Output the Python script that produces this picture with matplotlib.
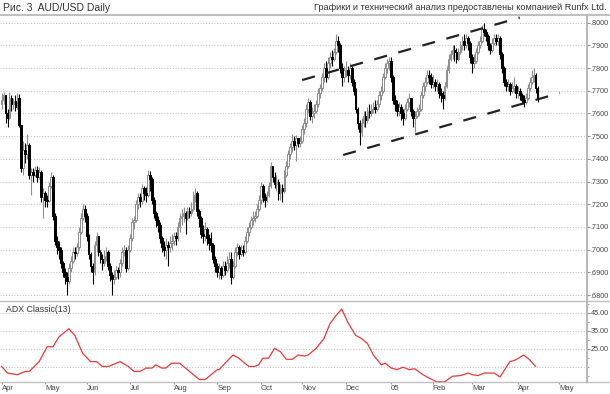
import matplotlib
matplotlib.use('Agg')
import matplotlib.pyplot as plt
from matplotlib.lines import Line2D
import numpy as np
import pandas as pd

plt.rcParams['font.family'] = ['Liberation Sans', 'DejaVu Sans']

# daily AUD/USD, prices in pips (0.0001), Apr 1 2004 .. Apr 15 2005
first_open = 7640
closes = [
    7660, 7680, 7600, 7580, 7670, 7640, 7655, 7630, 7670, 7550, 7360, 7440, 7420, 7460, 7330, 7340, 7330, 7350, 7320, 7340, 7230, 7250,  # apr
    7220, 7215, 7280, 7320, 7150, 7040, 7010, 7000, 6940, 6900, 6880, 6860, 6920, 6950, 6990, 6985, 7010, 7080, 7140, 7180, 7150,  # may
    7060, 6980, 6930, 6900, 7020, 7060, 6990, 6960, 6940, 6970, 6990, 6930, 6890, 6870, 6880, 6910, 6900, 6940, 6990, 7000, 6920, 7000,  # jun
    7050, 7120, 7130, 7200, 7230, 7215, 7270, 7250, 7240, 7330, 7310, 7220, 7160, 7130, 7110, 7050, 7010, 7000, 7020, 7010, 7030, 7040,  # jul
    7060, 7050, 7100, 7140, 7150, 7160, 7140, 7170, 7160, 7180, 7240, 7250, 7170, 7140, 7070, 7060, 7090, 7050, 7030, 7020, 6960, 6930,  # aug
    6900, 6920, 6890, 6930, 6910, 6940, 6960, 6880, 6930, 6990, 7010, 6980, 7000, 6990, 7040, 7080, 7100, 7130, 7140, 7150, 7180, 7220,  # sep
    7280, 7230, 7220, 7240, 7280, 7370, 7320, 7290, 7300, 7250, 7270, 7260, 7330, 7370, 7420, 7450, 7480, 7460, 7490, 7470, 7480,  # oct
    7530, 7560, 7620, 7650, 7590, 7600, 7610, 7640, 7690, 7710, 7760, 7800, 7760, 7820, 7850, 7840, 7870, 7920, 7900, 7800, 7760, 7790,  # nov
    7790, 7770, 7800, 7740, 7700, 7620, 7560, 7520, 7560, 7590, 7570, 7610, 7600, 7620, 7630, 7620, 7640, 7680, 7700, 7760, 7800, 7820, 7830,  # dec
    7760, 7660, 7640, 7610, 7630, 7600, 7580, 7620, 7650, 7670, 7610, 7580, 7590, 7610, 7620, 7680, 7720, 7740, 7770, 7760, 7730,  # jan
    7740, 7720, 7730, 7690, 7680, 7670, 7720, 7790, 7840, 7860, 7880, 7870, 7840, 7870, 7900, 7920, 7900, 7930, 7910, 7850,  # feb
    7820, 7830, 7870, 7900, 7920, 7970, 7960, 7940, 7900, 7880, 7910, 7930, 7920, 7930, 7860, 7800, 7740, 7720, 7730, 7700, 7710, 7720, 7690,  # mar
    7700, 7680, 7660, 7650, 7670, 7710, 7740, 7760, 7770, 7710, 7670,  # apr
]
highs = [
    7690, 7695, 7680, 7620, 7695, 7680, 7670, 7680, 7690, 7685, 7550, 7480, 7470, 7510, 7470, 7360, 7360, 7370, 7370, 7365, 7350, 7270,
    7260, 7240, 7300, 7340, 7330, 7160, 7060, 7040, 7010, 6950, 6920, 6900, 6940, 6970, 7010, 7010, 7030, 7100, 7160, 7200, 7195,
    7160, 7070, 6990, 6940, 7040, 7080, 7060, 7000, 6980, 7000, 7010, 7000, 6940, 6900, 6910, 6930, 6925, 6960, 7010, 7020, 7010, 7020,
    7070, 7140, 7150, 7220, 7250, 7250, 7290, 7280, 7275, 7350, 7345, 7320, 7230, 7170, 7150, 7120, 7060, 7040, 7050, 7040, 7060, 7070,
    7080, 7080, 7120, 7160, 7180, 7190, 7170, 7190, 7190, 7210, 7260, 7270, 7260, 7180, 7150, 7110, 7120, 7100, 7070, 7080, 7030, 6970,
    6940, 6940, 6930, 6950, 6950, 6970, 6990, 6990, 6950, 7010, 7030, 7020, 7020, 7020, 7060, 7100, 7120, 7150, 7170, 7170, 7200, 7240,
    7300, 7290, 7250, 7260, 7300, 7385, 7370, 7340, 7330, 7310, 7290, 7290, 7350, 7390, 7440, 7470, 7510, 7500, 7505, 7490, 7500,
    7550, 7580, 7640, 7670, 7660, 7630, 7640, 7660, 7710, 7730, 7780, 7820, 7830, 7850, 7870, 7880, 7890, 7950, 7940, 7910, 7820, 7810,
    7830, 7810, 7820, 7810, 7750, 7710, 7630, 7570, 7580, 7610, 7610, 7630, 7640, 7640, 7650, 7660, 7660, 7700, 7720, 7780, 7820, 7840, 7850,
    7850, 7770, 7680, 7660, 7650, 7640, 7620, 7640, 7670, 7690, 7670, 7620, 7610, 7630, 7640, 7700, 7740, 7760, 7790, 7790, 7780,
    7770, 7750, 7750, 7740, 7710, 7700, 7740, 7810, 7860, 7880, 7900, 7900, 7890, 7890, 7920, 7940, 7950, 7950, 7940, 7920,
    7860, 7860, 7890, 7920, 7940, 7990, 8000, 7970, 7950, 7910, 7930, 7950, 7950, 7950, 7940, 7870, 7810, 7750, 7750, 7740, 7740, 7760, 7730,
    7720, 7710, 7690, 7680, 7690, 7730, 7760, 7790, 7800, 7780, 7720,
]
lows = [
    7620, 7640, 7560, 7540, 7575, 7610, 7620, 7610, 7620, 7540, 7340, 7330, 7380, 7400, 7310, 7240, 7300, 7320, 7300, 7310, 7210, 7140,
    7190, 7190, 7210, 7270, 7130, 7020, 6980, 6960, 6920, 6880, 6850, 6800, 6850, 6900, 6940, 6960, 6970, 7000, 7070, 7130, 7120,
    7040, 6960, 6900, 6850, 6890, 6990, 6970, 6940, 6910, 6930, 6950, 6910, 6860, 6800, 6850, 6870, 6870, 6880, 6930, 6970, 6900, 6910,
    6990, 7040, 7090, 7120, 7180, 7190, 7200, 7220, 7210, 7230, 7260, 7200, 7140, 7100, 7080, 7030, 6990, 6970, 6960, 6930, 6990, 7000,
    7020, 7020, 7040, 7080, 7110, 7120, 7070, 7130, 7140, 7150, 7170, 7210, 7150, 7100, 7050, 7030, 7040, 7020, 7000, 6990, 6940, 6900,
    6880, 6870, 6870, 6880, 6890, 6900, 6920, 6850, 6870, 6920, 6970, 6960, 6970, 6970, 6980, 7030, 7060, 7090, 7110, 7120, 7140, 7170,
    7200, 7210, 7190, 7210, 7230, 7270, 7300, 7270, 7260, 7220, 7220, 7210, 7250, 7320, 7360, 7400, 7430, 7440, 7390, 7450, 7450,
    7470, 7510, 7540, 7600, 7570, 7560, 7580, 7600, 7630, 7670, 7700, 7740, 7740, 7750, 7800, 7810, 7830, 7860, 7870, 7780, 7720, 7740,
    7760, 7740, 7750, 7720, 7680, 7600, 7530, 7460, 7500, 7540, 7540, 7560, 7580, 7590, 7600, 7600, 7610, 7630, 7660, 7690, 7750, 7780, 7790,
    7740, 7640, 7610, 7590, 7590, 7570, 7550, 7570, 7610, 7630, 7590, 7540, 7520, 7580, 7590, 7610, 7670, 7700, 7730, 7730, 7710,
    7710, 7700, 7700, 7670, 7650, 7620, 7660, 7710, 7780, 7830, 7840, 7830, 7820, 7830, 7860, 7880, 7880, 7890, 7880, 7820,
    7780, 7800, 7820, 7860, 7890, 7910, 7940, 7920, 7880, 7860, 7870, 7900, 7900, 7900, 7840, 7780, 7720, 7700, 7700, 7680, 7690, 7690, 7670,
    7670, 7660, 7640, 7630, 7640, 7660, 7700, 7730, 7740, 7690, 7650,
]

# ADX(13), sampled by trading-day number
adx_day = [0, 3, 8, 10, 12, 14, 19, 23, 26, 29, 34, 37, 41, 45, 48, 51, 54, 56, 58, 60,
           64, 67, 70, 73, 76, 78, 81, 83, 86, 90, 94, 98, 100, 103, 106, 109, 110, 113, 117, 120,
           123, 125, 128, 130, 132, 135, 138, 141, 144, 147, 150, 153, 155, 159, 163, 166, 169, 172, 175, 179,
           182, 185, 188, 192, 194, 197, 200, 203, 206, 209, 213, 216, 220, 224, 228, 232, 236, 238, 241, 244,
           249, 252, 257, 260, 264, 267, 270]
adx_val = [15.1, 11.4, 10.5, 11.4, 12.3, 12.3, 17.8, 26.1, 26.1, 31.6, 36.2, 32.5, 22.4, 17.8, 17.8, 15.1, 15.1, 16.0, 16.9, 17.8,
           15.1, 12.3, 12.3, 14.2, 14.2, 16.0, 14.2, 14.2, 16.9, 16.9, 13.3, 9.6, 7.8, 7.8, 10.5, 13.3, 13.3, 16.9, 21.5, 19.7,
           16.9, 15.1, 15.1, 16.0, 19.7, 19.7, 25.2, 23.3, 19.1, 19.1, 21.5, 20.9, 21.5, 25.2, 30.7, 38.9, 43.5, 47.2, 39.9, 32.5,
           30.7, 27.9, 21.5, 16.0, 16.9, 14.2, 13.3, 14.7, 13.3, 13.8, 10.5, 8.7, 6.5, 6.5, 9.6, 10.0, 11.4, 10.5, 10.0, 11.4,
           11.4, 9.2, 17.8, 18.8, 21.5, 18.8, 15.1]

# channel lines (trading-day number, price)
upper_line = [(152, 0.7747), (262, 0.8022)]
lower_line = [(172.7, 0.7417), (282.3, 0.7690)]

price_ticks = [0.68, 0.69, 0.70, 0.71, 0.72, 0.73, 0.74, 0.75, 0.76, 0.77, 0.78, 0.79, 0.80]
adx_ticks = [25, 35, 45]
adx_grid = [15, 25, 35, 45]

axis_dates = pd.bdate_range('2004-04-01', '2005-05-31')

c = np.array(closes) / 10000
h = np.array(highs) / 10000
l = np.array(lows) / 10000
o = np.concatenate([[first_open / 10000], c[:-1]])
h = np.maximum(h, np.maximum(o, c))
l = np.minimum(l, np.minimum(o, c))
x = np.arange(len(c))
up = c >= o

W, H = 610, 394
fig = plt.figure(figsize=(W / 100, H / 100), dpi=100)
ax = fig.add_axes([0, 1 - 301 / H, 587 / W, (301 - 16) / H])
ax2 = fig.add_axes([0, 1 - 382 / H, 587 / W, (382 - 301) / H], sharex=ax)

grid_kw = dict(color='#c4c4c4', linewidth=0.8, linestyle=(0, (1, 1.5)), zorder=0)
for v in price_ticks:
    ax.axhline(v, **grid_kw)
for v in adx_grid:
    ax2.axhline(v, **grid_kw)

# candles
grey = '#8e8e8e'
ax.vlines(x[up], l[up], h[up], color=grey, linewidth=0.8, zorder=2)
ax.vlines(x[~up], l[~up], h[~up], color='#000000', linewidth=0.8, zorder=2)
body = np.maximum(np.abs(c - o), 0.0002)
ax.bar(x[up], body[up], bottom=np.minimum(o, c)[up], width=0.9,
       color='white', edgecolor=grey, linewidth=0.7, zorder=3)
ax.bar(x[~up], body[~up], bottom=np.minimum(o, c)[~up], width=0.9,
       color='black', edgecolor='black', linewidth=0.7, zorder=3)

dash = (0, (9.5 / 1.6, 8.5 / 1.6))
for line in (upper_line, lower_line):
    ax.plot([line[0][0], line[1][0]], [line[0][1], line[1][1]], color='#222222',
            linewidth=1.6, linestyle=dash, zorder=4, solid_capstyle='butt')

ax.set_ylim(0.6774, 0.8029)
ax.set_xlim(-0.8, 296)
ax.yaxis.tick_right()
ax.set_yticks(price_ticks)
ax.set_yticklabels(['.%04d' % round(v * 10000) for v in price_ticks])
ax.tick_params(axis='y', length=2, pad=0.6, labelsize=5.2, colors='#909090', labelcolor='#444444')
ax.tick_params(axis='x', bottom=False, labelbottom=False)

# ADX
ax2.plot(adx_day, adx_val, color='#e83a3a', linewidth=0.9, zorder=3)
ax2.set_ylim(6.4, 51.7)
ax2.yaxis.tick_right()
ax2.set_yticks(adx_ticks)
ax2.set_yticklabels(['%.2f' % v for v in adx_ticks])
ax2.set_yticks([10, 15, 20, 30, 40, 50], minor=True)
ax2.tick_params(axis='y', length=2, pad=0.6, labelsize=5.2, colors='#909090', labelcolor='#444444')
ax2.tick_params(axis='y', which='minor', length=1.5, colors='#909090')
ax2.text(2, 49.5, 'ADX Classic(13)', fontsize=6.3, color='#333333', va='top', ha='left')

month_pos = []
month_lab = []
prev = None
for i, d in enumerate(axis_dates):
    if d.month != prev:
        month_pos.append(i)
        month_lab.append('05' if d.month == 1 else d.strftime('%b'))
        prev = d.month
ax2.set_xticks(month_pos)
ax2.set_xticklabels(month_lab, ha='left')
ax2.tick_params(axis='x', length=1.5, pad=0.3, labelsize=5.6, colors='#909090', labelcolor='#444444')

for a in (ax, ax2):
    for s in a.spines.values():
        s.set_visible(False)
    a.set_facecolor('none')

# frame lines
for yy in (15, 301, 382):
    fig.add_artist(Line2D([0, 1], [1 - yy / H, 1 - yy / H], color='#c0c0c0',
                          linewidth=1.5 if yy == 15 else 1.0))
fig.add_artist(Line2D([587 / W, 587 / W], [1 - 382 / H, 1 - 15 / H], color='#b8b8b8', linewidth=1.5))

fig.text(3 / W, 1 - 8 / H, 'Рис. 3  AUD/USD Daily', fontsize=7.5, color='#333333', va='center', ha='left')
fig.text(607 / W, 1 - 8 / H, 'Графики и технический анализ предоставлены компанией Runfx Ltd.',
         fontsize=6.6, color='#333333', va='center', ha='right')

fig.savefig('out.png', dpi=100)
